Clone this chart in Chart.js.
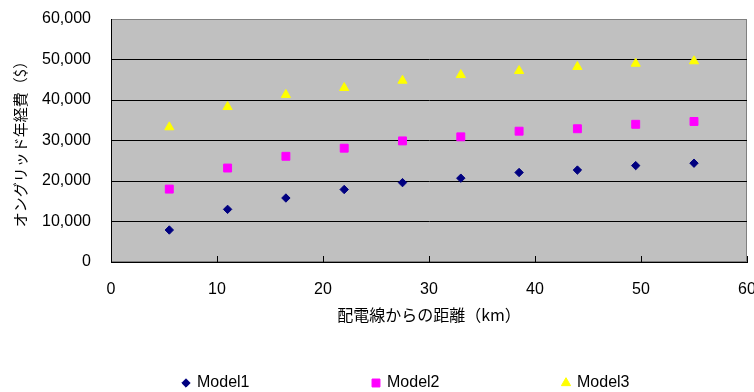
<!DOCTYPE html>
<html>
<head>
<meta charset="utf-8">
<script src="https://cdn.jsdelivr.net/npm/chart.js@4/dist/chart.umd.min.js"></script>
<style>
  html, body { margin: 0; padding: 0; background: #ffffff; }
  #wrap { width: 754px; height: 392px; }
</style>
</head>
<body>
<div id="wrap"><canvas id="c" width="754" height="392"></canvas></div>
<script>
// Distance from the distribution line (km)
const distanceKm = [5.5, 11, 16.5, 22, 27.5, 33, 38.5, 44, 49.5, 55];
// Annual on-grid cost ($) per model
const model1 = [7900, 13000, 15800, 17900, 19600, 20700, 22100, 22700, 23800, 24400];
const model2 = [18000, 23200, 26100, 28100, 29900, 30900, 32300, 32900, 34000, 34700];
const model3 = [33300, 38300, 41300, 43000, 44800, 46200, 47200, 48200, 49000, 49600];
const seriesNames = ['Model1', 'Model2', 'Model3'];
const xTitle = '配電線からの距離（km）';
const yTitle = 'オングリッド年経費（$）';

const toPoints = ys => ys.map((y, i) => ({ x: distanceKm[i], y }));

Chart.defaults.font.family = "'Liberation Sans', Arial, 'Noto Sans CJK JP', sans-serif";
Chart.defaults.font.size = 16;
Chart.defaults.color = '#000000';

// Grey plotting area with a thin grey frame
const plotBackground = {
  id: 'plotBackground',
  beforeDraw(chart) {
    const { ctx, chartArea: a } = chart;
    ctx.save();
    ctx.fillStyle = '#C0C0C0';
    ctx.fillRect(a.left, a.top, a.right - a.left, a.bottom - a.top);
    ctx.strokeStyle = '#808080';
    ctx.lineWidth = 1;
    ctx.strokeRect(a.left + 0.5, a.top + 0.5, a.right - a.left - 1, a.bottom - a.top - 1);
    ctx.restore();
  }
};

// Legend row along the bottom edge
const bottomLegend = {
  id: 'bottomLegend',
  afterDraw(chart) {
    const { ctx } = chart;
    const markerX = [186, 376, 566];
    const y = 383;
    ctx.save();
    chart.data.datasets.forEach((ds, i) => {
      const style = {
        pointStyle: ds.pointStyle,
        radius: ds.pointRadius,
        rotation: 0,
        borderWidth: ds.pointBorderWidth
      };
      ctx.fillStyle = ds.pointBackgroundColor;
      ctx.strokeStyle = ds.pointBorderColor;
      ctx.lineWidth = ds.pointBorderWidth;
      Chart.helpers.drawPoint(ctx, style, markerX[i], y);
      ctx.fillStyle = '#000000';
      ctx.font = "16px 'Liberation Sans', Arial, sans-serif";
      ctx.textBaseline = 'middle';
      ctx.textAlign = 'left';
      ctx.fillText(ds.label, markerX[i] + 11, y);
    });
    ctx.restore();
  }
};

const mk = (label, data, style, color, radius) => ({
  label,
  data: toPoints(data),
  showLine: false,
  pointStyle: style,
  pointRadius: radius,
  pointHoverRadius: radius,
  pointBorderWidth: 1,
  pointBackgroundColor: color,
  pointBorderColor: color
});

new Chart(document.getElementById('c'), {
  type: 'scatter',
  data: {
    datasets: [
      mk(seriesNames[0], model1, 'rectRot', '#000080', 4.2),
      mk(seriesNames[1], model2, 'rect', '#FF00FF', 5.6),
      mk(seriesNames[2], model3, 'triangle', '#FFFF00', 5.3)
    ]
  },
  options: {
    responsive: false,
    animation: false,
    devicePixelRatio: 1,
    layout: { padding: { top: 19, right: 7, bottom: 60, left: 0 } },
    plugins: {
      legend: { display: false },
      tooltip: { enabled: false }
    },
    scales: {
      x: {
        type: 'linear',
        min: 0, max: 60,
        ticks: { stepSize: 10, padding: 24, maxRotation: 0, font: { size: 16 } },
        grid: { drawOnChartArea: false, drawTicks: true, tickLength: -6, color: '#000000' },
        border: { color: '#000000', width: 1 },
        title: {
          display: true, text: xTitle,
          font: { size: 16, family: "'Noto Sans CJK JP', sans-serif" },
          padding: { top: 0, bottom: 7 }
        },
        afterFit(s) { s.height = 70; s.paddingLeft = 0; s.paddingRight = 0; }
      },
      y: {
        type: 'linear',
        min: 0, max: 60000,
        ticks: {
          stepSize: 10000, padding: 20, font: { size: 16 },
          callback: v => Number(v).toLocaleString('en-US')
        },
        grid: {
          drawTicks: false,
          color: c => (c.tick && c.tick.value === 60000) ? '#808080' : '#000000'
        },
        border: { color: '#000000', width: 1 },
        title: {
          display: true, text: yTitle,
          font: { size: 15, family: "'Noto Sans CJK JP', sans-serif" },
          padding: { top: 11, bottom: 0 }
        },
        afterFit(s) { s.width = 111; s.paddingTop = 0; s.paddingBottom = 0; }
      }
    }
  },
  plugins: [plotBackground, bottomLegend]
});
</script>
</body>
</html>
